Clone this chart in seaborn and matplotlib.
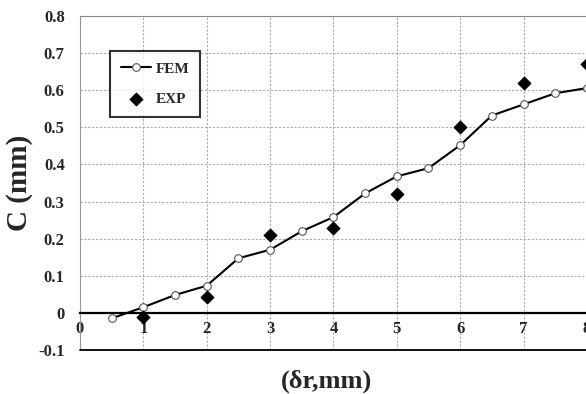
import matplotlib
matplotlib.use("Agg")
import matplotlib.pyplot as plt
import seaborn as sns
import pandas as pd

fem_x = [0.5, 1.0, 1.5, 2.0, 2.5, 3.0, 3.5, 4.0, 4.5, 5.0, 5.5, 6.0, 6.5, 7.0, 7.5, 8.0]
fem_c = [-0.015, 0.015, 0.048, 0.073, 0.147, 0.170, 0.220, 0.258, 0.322, 0.368,
         0.390, 0.452, 0.532, 0.562, 0.592, 0.606]
exp_x = [1.0, 2.0, 3.0, 4.0, 5.0, 6.0, 7.0, 8.0]
exp_c = [-0.01, 0.042, 0.21, 0.23, 0.32, 0.50, 0.62, 0.67]
x_ticks = [0, 1, 2, 3, 4, 5, 6, 7, 8]
y_ticks = [-0.1, 0.0, 0.1, 0.2, 0.3, 0.4, 0.5, 0.6, 0.7, 0.8]
y_tick_labels = ["-0.1", "0", "0.1", "0.2", "0.3", "0.4", "0.5", "0.6", "0.7", "0.8"]

sns.set_style("white")
plt.rcParams['font.family'] = ['Liberation Serif', 'DejaVu Serif']
plt.rcParams['font.weight'] = 'bold'

fem = pd.DataFrame({"x": fem_x, "c": fem_c})
exp = pd.DataFrame({"x": exp_x, "c": exp_c})

fig = plt.figure(figsize=(5.86, 3.94), dpi=100)
ax = fig.add_axes([0.1365, 0.112, 0.865, 0.847])

sns.lineplot(data=fem, x="x", y="c", ax=ax, color="black", lw=1.5,
             marker="o", markersize=5.5, markerfacecolor="white",
             markeredgecolor="#555555", markeredgewidth=0.8, label="FEM", zorder=4)
sns.scatterplot(data=exp, x="x", y="c", ax=ax, color="black", marker="D",
                s=45, edgecolor="black", label="EXP", zorder=5)

ax.set_xlim(0, 8)
ax.set_ylim(-0.1, 0.8)
ax.set_xticks(x_ticks)
ax.set_yticks(y_ticks)
ax.set_yticklabels(y_tick_labels)
ax.grid(True, color="#aaaaaa", linestyle=(0, (2, 1.5)), linewidth=0.8)
ax.set_axisbelow(True)

ax.spines['bottom'].set_position(('data', 0))
ax.spines['bottom'].set_color('black')
ax.spines['bottom'].set_linewidth(1.6)
ax.spines['left'].set_color('#999999')
ax.spines['top'].set_color('#888888')
ax.spines['right'].set_visible(False)
ax.axhline(-0.1, color='black', lw=1.3, zorder=3, clip_on=False)

ax.tick_params(axis='both', length=0, labelsize=12)
ax.tick_params(axis='x', pad=6)
ax.tick_params(axis='y', pad=11)
for lab in ax.get_xticklabels() + ax.get_yticklabels():
    lab.set_fontweight('bold')

ax.set_xlabel("(δr,mm)", fontsize=19, fontweight='bold')
ax.xaxis.set_label_coords(0.487, -0.06)
ax.set_ylabel("C (mm)", fontsize=21, fontweight='bold')
ax.yaxis.set_label_coords(-0.093, 0.5)

leg = ax.legend(loc='upper left', bbox_to_anchor=(0.059, 0.895), frameon=True,
                fancybox=False, edgecolor='black', fontsize=11, handlelength=2.0,
                borderpad=0.7, labelspacing=1.1, handletextpad=0.3, borderaxespad=0)
leg.get_frame().set_linewidth(1.5)
for t in leg.get_texts():
    t.set_fontweight('bold')

fig.savefig("out.png", dpi=100)
